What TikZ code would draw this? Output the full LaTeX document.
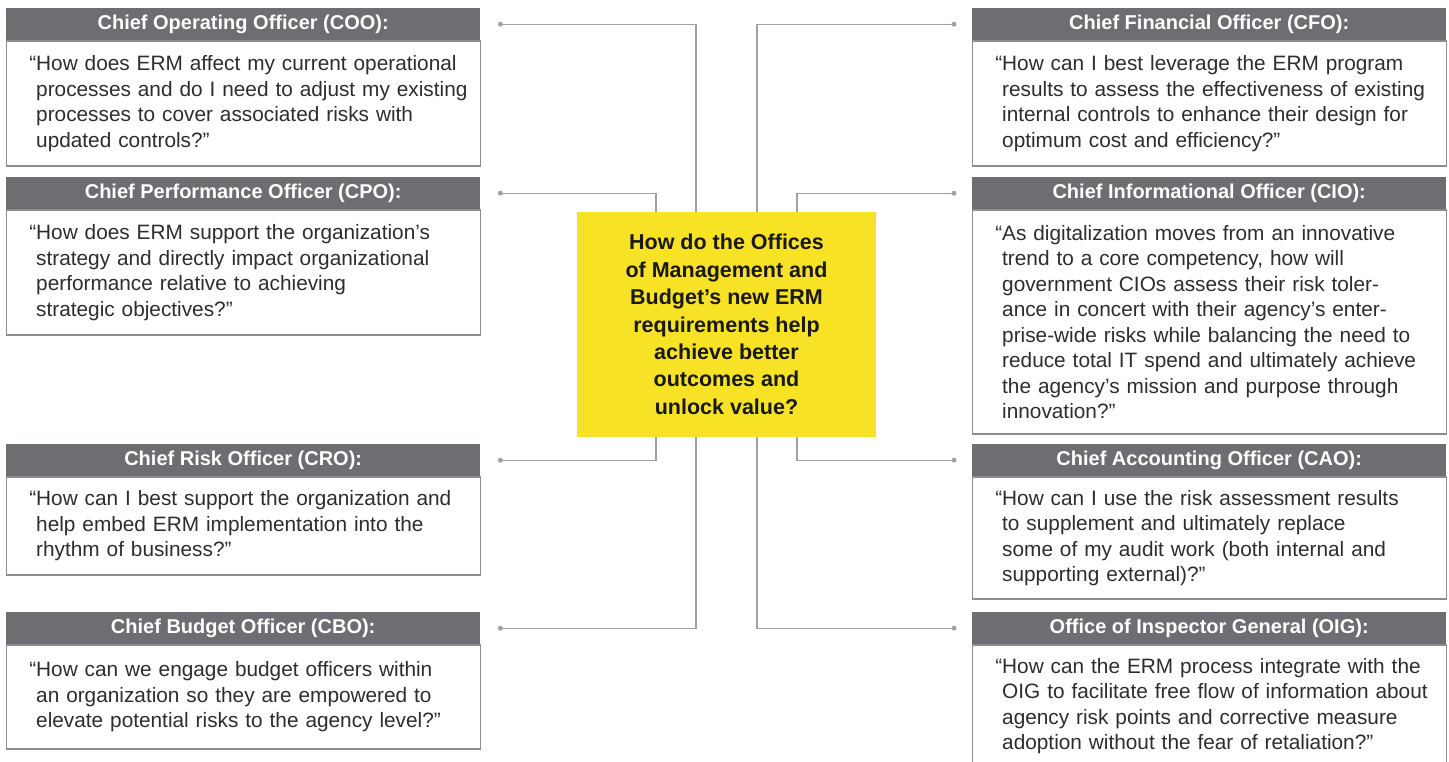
\documentclass[tikz,border=0pt]{standalone}
\usepackage{fontspec}
\setmainfont{Liberation Sans}
\usetikzlibrary{positioning}

\definecolor{hdgray}{HTML}{6D6E71}
\definecolor{boxgray}{HTML}{8C8D90}
\definecolor{linkgray}{HTML}{A0A1A4}
\definecolor{eyyellow}{HTML}{F8E225}
\definecolor{txtgray}{HTML}{2E2C2D}

% opening quote hangs left of the text block
\newcommand{\ask}[1]{\leftskip=30pt\relax\noindent\llap{“}#1”\par}

\tikzset{
  head/.style={fill=hdgray, text=white, font=\bfseries\fontsize{20}{24}\selectfont,
    minimum width=474pt, minimum height=32pt, inner sep=0pt, anchor=north west},
  quest/.style={draw=boxgray, line width=1.2pt, text=txtgray,
    font=\fontsize{20.8}{25.5}\selectfont, text width=474pt, align=left,
    inner xsep=0pt, inner ysep=0pt, minimum height=#1},
  hub/.style={fill=eyyellow, text=black!90, minimum width=299pt, minimum height=225pt,
    align=center, font=\bfseries\fontsize{21.5}{27.4}\selectfont},
  dot/.style={circle, fill=linkgray, inner sep=0pt, minimum size=5pt},
  link/.style={draw=linkgray, line width=1.4pt}
}

\begin{document}
\begin{tikzpicture}[x=1pt,y=-1pt]
\useasboundingbox (0,0) rectangle (1449,761);

\node[hub] (hub) at (726.5,324.5) {How do the Offices\\of Management and\\Budget’s new ERM\\requirements help\\achieve better\\outcomes and\\unlock value?};

% left column
\node[head] (coo) at (6,8) {Chief Operating Officer (COO):};
\node[quest=125pt, below=0pt of coo] (cooq) {\ask{How does ERM affect my current operational\\processes and do I need to adjust my existing\\processes to cover associated risks with\\updated controls?}};

\node[head] (cpo) at (6,177) {Chief Performance Officer (CPO):};
\node[quest=125pt, below=0pt of cpo] (cpoq) {\ask{How does ERM support the organization’s\\strategy and directly impact organizational\\performance relative to achieving\\strategic objectives?}};

\node[head] (cro) at (6,444) {Chief Risk Officer (CRO):};
\node[quest=98pt, below=0pt of cro] (croq) {\ask{How can I best support the organization and\\help embed ERM implementation into the\\rhythm of business?}};

\node[head] (cbo) at (6,612) {Chief Budget Officer (CBO):};
\node[quest=104pt, below=0pt of cbo] (cboq) {\ask{How can we engage budget officers within\\an organization so they are empowered to\\elevate potential risks to the agency level?}};

% right column
\node[head] (cfo) at (972,8) {Chief Financial Officer (CFO):};
\node[quest=125pt, below=0pt of cfo] (cfoq) {\ask{How can I best leverage the ERM program\\results to assess the effectiveness of existing\\internal controls to enhance their design for\\optimum cost and efficiency?}};

\node[head] (cio) at (972,177) {Chief Informational Officer (CIO):};
\node[quest=224pt, below=0pt of cio] (cioq) {\ask{As digitalization moves from an innovative\\trend to a core competency, how will\\government CIOs assess their risk toler-\\ance in concert with their agency’s enter-\\prise-wide risks while balancing the need to\\reduce total IT spend and ultimately achieve\\the agency’s mission and purpose through\\innovation?}};

\node[head] (cao) at (972,444) {Chief Accounting Officer (CAO):};
\node[quest=122pt, below=0pt of cao] (caoq) {\ask{How can I use the risk assessment results\\to supplement and ultimately replace\\some of my audit work (both internal and\\supporting external)?}};

\node[head] (oig) at (972,612) {Office of Inspector General (OIG):};
\node[quest=122pt, below=0pt of oig] (oigq) {\ask{How can the ERM process integrate with the\\OIG to facilitate free flow of information about\\agency risk points and corrective measure\\adoption without the fear of retaliation?}};

% connectors
\foreach \who in {coo,cpo,cro,cbo}
    \node[dot] (\who d) at ([xshift=20]\who.east) {};
\foreach \who in {cfo,cio,cao,oig}
    \node[dot] (\who d) at ([xshift=-18]\who.west) {};

\foreach \who/\dx/\side in {coo/-30.5/north, cpo/-70.5/north, cro/-70.5/south, cbo/-30.5/south,
    cfo/30.5/north, cio/70.5/north, cao/70.5/south, oig/30.5/south} {
    \draw[link] (\who d.center) -| ([xshift=\dx]hub.\side);
}
\end{tikzpicture}
\end{document}
